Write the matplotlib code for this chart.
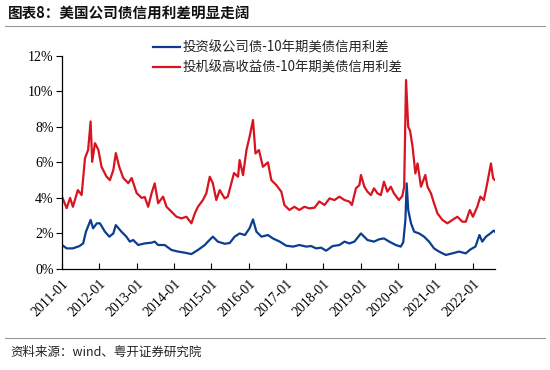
import matplotlib
matplotlib.use("Agg")
import matplotlib.pyplot as plt
import pandas as pd
from matplotlib.lines import Line2D

plt.rcParams['font.family'] = ['Noto Sans CJK SC', 'DejaVu Sans']

# month offsets from 2011-01 and spread values (%)
hy_months = [0, 1.5, 2.6, 3.5, 5.1, 6.3, 7.4, 8.4, 9.2, 9.7, 10.6, 11.7, 12.7, 14.3, 15.4, 16.5,
             17.3, 18.4, 19.7, 21.3, 22.4, 24, 25.6, 26.6, 27.7, 28.8, 29.8, 30.9, 32.5, 33.6,
             35.2, 36.8, 38.4, 40, 41.6, 42.7, 43.7, 45.3, 46.4, 47.5, 48.5, 49.6, 50.7, 52.3,
             53.3, 55.3, 56.6, 57.1, 58.2, 59.3, 60.3, 61.4, 62.2, 63.3, 64.6, 66.2, 67.3, 68.9,
             70.5, 71.5, 73.1, 74.7, 76.3, 77.9, 79.6, 81.2, 82.7, 84.4, 86, 87.6, 89.2, 90.8,
             92.4, 93.2, 94.5, 95.6, 96.1, 97.2, 98.2, 99.3, 100.3, 101.4, 102.5, 103.5, 104.6,
             105.7, 106.7, 108.3, 109.4, 110, 110.6, 111.3, 111.9, 112.7, 113.6, 114.3, 115.4,
             116.8, 117.5, 118.6, 119.6, 120.7, 122.3, 123.9, 125.5, 127.1, 128.7, 129.8, 131.1,
             132.1, 133.5, 134.5, 135.6, 136.7, 137.9, 138.6, 139.2]
hy_values = [4.07, 3.42, 4.0, 3.5, 4.44, 4.16, 6.24, 6.7, 8.3, 6.03, 7.08, 6.7, 5.75, 5.2, 5.0, 5.57,
             6.52, 5.75, 5.12, 4.83, 5.12, 4.27, 4.0, 4.05, 3.5, 4.26, 4.82, 3.7, 4.07, 3.5,
             3.22, 2.94, 2.85, 2.94, 2.57, 3.13, 3.5, 3.88, 4.26, 5.19, 4.82, 3.88, 4.44, 3.97,
             4.07, 5.4, 5.19, 6.13, 5.28, 6.69, 7.44, 8.38, 6.5, 6.69, 5.75, 6.0, 5.0, 4.72,
             4.35, 3.6, 3.32, 3.5, 3.32, 3.5, 3.41, 3.45, 3.8, 3.6, 3.97, 3.88, 4.07, 3.88,
             3.79, 3.6, 4.54, 4.72, 5.29, 4.63, 4.35, 4.16, 4.54, 4.26, 4.16, 4.91, 4.35,
             4.63, 4.26, 3.88, 4.1, 4.63, 10.63, 8.0, 7.78, 6.88, 5.38, 5.94, 4.63,
             5.29, 4.63, 4.26, 3.7, 3.13, 2.76, 2.57, 2.76, 2.94, 2.66, 2.66, 3.32,
             2.94, 3.5, 4.07, 3.88, 4.82, 5.94, 5.1, 5.0]

ig_months = [0, 1.5, 3.5, 5.6, 6.8, 7.7, 9.2, 10, 11.2, 12.2, 13.8, 15.2, 16.5, 17.3, 19.1, 20.7,
             21.8, 22.9, 24.5, 26.6, 28.8, 29.8, 30.9, 33, 35.2, 37.3, 39.4, 41.6, 43.7, 45.9,
             46.9, 48.5, 50.1, 52.3, 53.9, 55.5, 57.1, 58.8, 60.3, 61.4, 62.5, 64.1, 66.2, 67.8,
             70, 72.1, 74.3, 76.3, 78.5, 80.1, 81.7, 83.3, 84.9, 87, 89.2, 90.8, 92.4, 94, 96.1,
             98.2, 100.3, 101.9, 103.5, 105.2, 107.3, 108.9, 109.7, 110.4, 110.8, 111.3, 112.2,
             113.2, 114.8, 116.4, 118, 119.6, 121.2, 123.4, 125.5, 127.6, 129.8, 131.3, 132.9,
             134.2, 135.1, 136.3, 137.7, 138.8, 139.2]
ig_values = [1.35, 1.16, 1.16, 1.29, 1.44, 2.1, 2.76, 2.29, 2.57, 2.57, 2.1, 1.82, 2.0, 2.47, 2.1, 1.82,
             1.54, 1.63, 1.35, 1.44, 1.48, 1.54, 1.35, 1.35, 1.07, 0.98, 0.92, 0.84, 1.07, 1.35,
             1.54, 1.82, 1.54, 1.42, 1.46, 1.82, 2.0, 1.91, 2.29, 2.79, 2.1, 1.82, 1.91, 1.72,
             1.54, 1.31, 1.26, 1.35, 1.26, 1.29, 1.16, 1.2, 1.03, 1.29, 1.35, 1.54, 1.44, 1.54, 2.0,
             1.63, 1.54, 1.67, 1.72, 1.54, 1.35, 1.26, 1.5, 2.76, 4.82, 3.32, 2.57,
             2.1, 2.0, 1.82, 1.54, 1.16, 0.98, 0.79, 0.88, 0.98, 0.88, 1.1, 1.26,
             1.91, 1.54, 1.82, 2.0, 2.16, 2.1]

tick_labels = ['2011-01', '2012-01', '2013-01', '2014-01', '2015-01', '2016-01',
               '2017-01', '2018-01', '2019-01', '2020-01', '2021-01', '2022-01']
y_ticks = [0, 2, 4, 6, 8, 10, 12]

series_ig = '投资级公司债-10年期美债信用利差'
series_hy = '投机级高收益债-10年期美债信用利差'
title = '图表8：美国公司债信用利差明显走阔'
source = '资料来源：wind、粤开证券研究院'

start = pd.Timestamp('2011-01-01')
def to_dates(months):
    return [start + pd.Timedelta(days=m * 30.4375) for m in months]

hy_dates = to_dates(hy_months)
ig_dates = to_dates(ig_months)

BLUE = '#0b3d91'
RED = '#d7141f'

fig = plt.figure(figsize=(5.5, 3.7), dpi=100)
ax = fig.add_axes([62 / 550, 1 - 269 / 370, (495 - 62) / 550, (269 - 55.7) / 370])

ax.plot(ig_dates, ig_values, color=BLUE, lw=1.6)
ax.plot(hy_dates, hy_values, color=RED, lw=1.6)

ax.set_xlim(start, max(hy_dates[-1], ig_dates[-1]))
ax.set_ylim(0, 12)
ax.set_yticks(y_ticks)
ax.set_yticklabels([f'{v}%' for v in y_ticks], family='Liberation Serif', fontsize=10)
ticks = [pd.Timestamp(t + '-01') for t in tick_labels]
ax.set_xticks(ticks)
ax.set_xticklabels(tick_labels, rotation=45, ha='right', rotation_mode='anchor',
                   family='Liberation Serif', fontsize=10)
ax.tick_params(axis='y', direction='out', length=4, width=0.8, pad=2)
ax.tick_params(axis='x', direction='in', length=4, width=0.8, pad=6)
for s in ['top', 'right']:
    ax.spines[s].set_visible(False)
for s in ['left', 'bottom']:
    ax.spines[s].set_linewidth(0.9)

handles = [Line2D([], [], color=BLUE, lw=1.6), Line2D([], [], color=RED, lw=1.6)]
leg = fig.legend(handles, [series_ig, series_hy], loc='upper left',
                 bbox_to_anchor=(141 / 550, 1 - 29 / 370), frameon=False,
                 prop={'family': ['Noto Sans CJK SC', 'DejaVu Sans'], 'size': 9.6},
                 handlelength=2.0, handletextpad=0.2, labelspacing=0.45)
for t in leg.get_texts():
    t.set_color('#222222')

fig.text(8 / 550, 1 - 13 / 370, title, fontsize=10.5, fontweight='bold',
         va='center', ha='left', color='#111111')
fig.add_artist(Line2D([5 / 550, 545 / 550], [1 - 26 / 370, 1 - 26 / 370],
                      color='#999999', lw=0.8))
fig.add_artist(Line2D([5 / 550, 545 / 550], [1 - 338 / 370, 1 - 338 / 370],
                      color='#999999', lw=0.8))
fig.text(10 / 550, 1 - 352 / 370, source, fontsize=9, va='center', ha='left',
         color='#222222', style='italic')

fig.savefig('out.png', dpi=100)
